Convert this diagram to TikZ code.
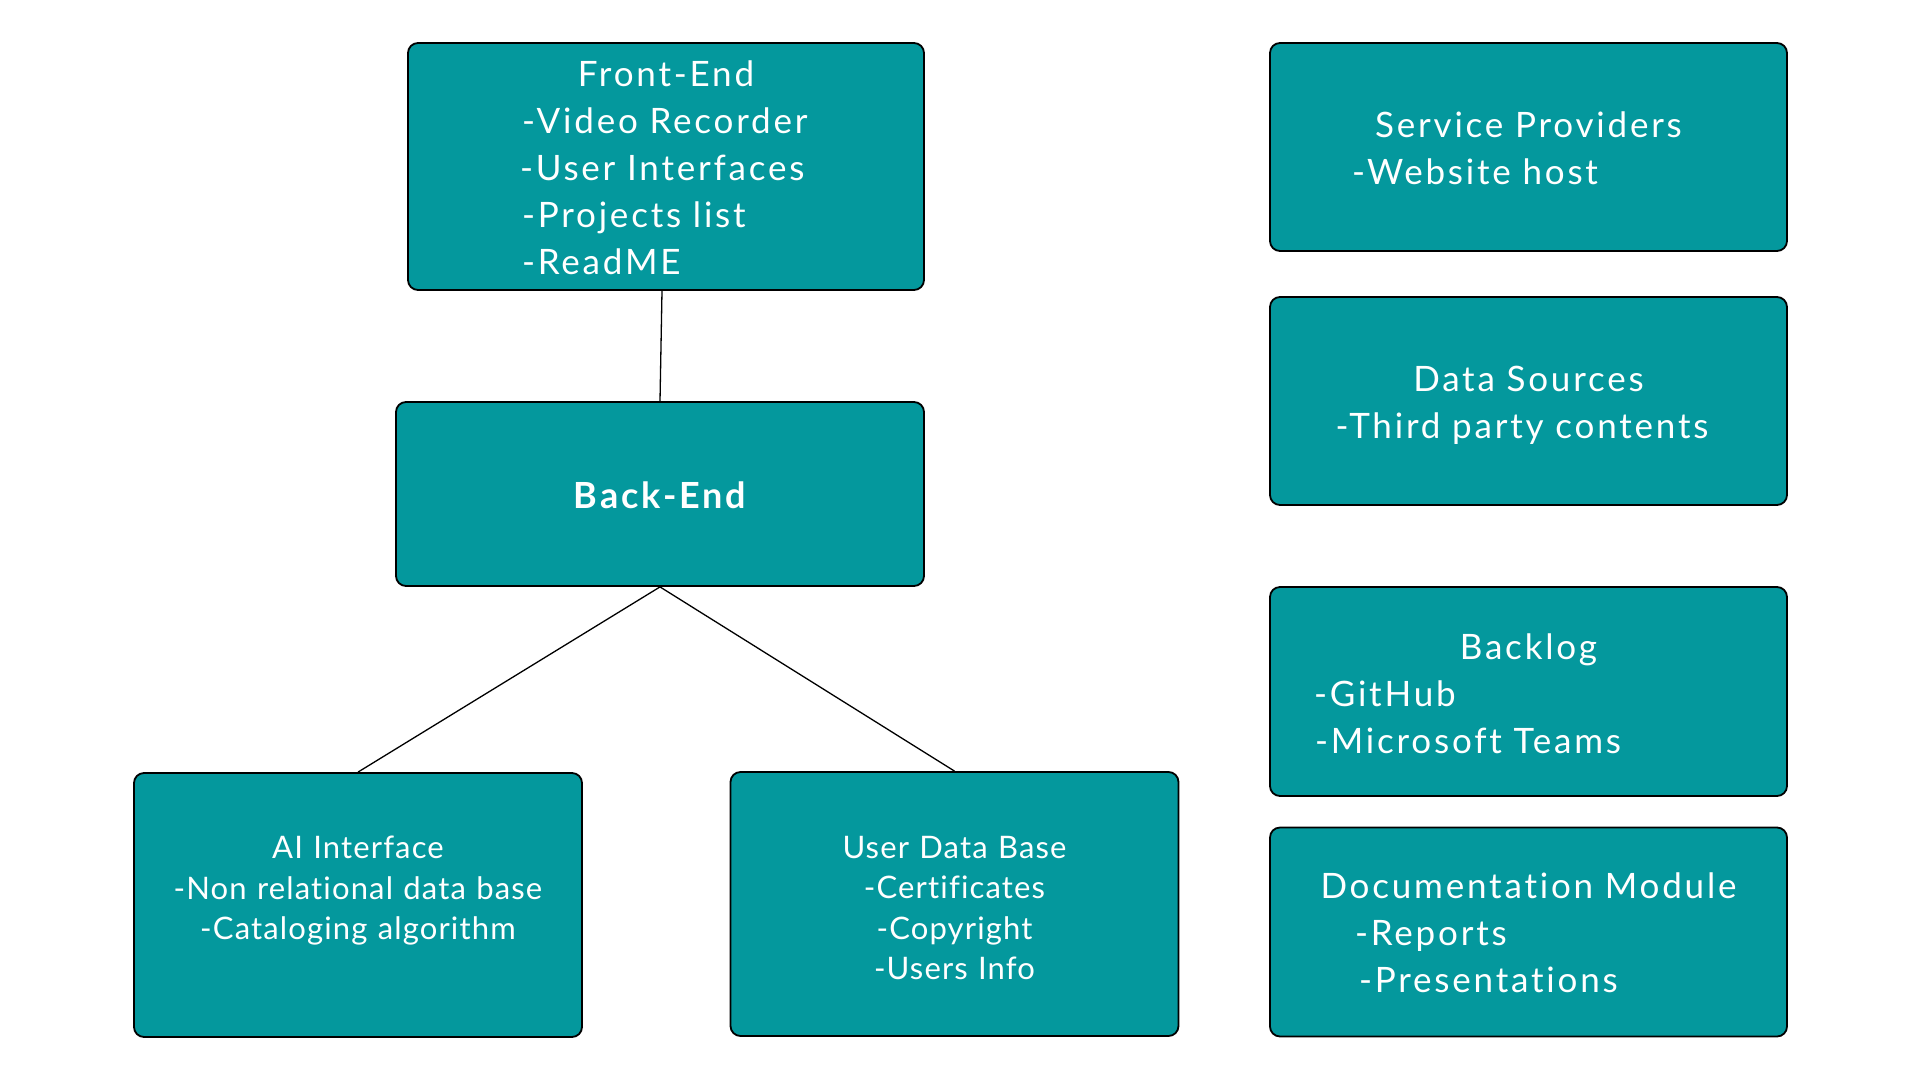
\documentclass[tikz,border=0pt]{standalone}
\usepackage{fontspec}
\setmainfont{Lato}[LetterSpace=8, Ligatures=NoCommon]
\newfontfamily\smallfont{Lato}[LetterSpace=3.7, Ligatures=NoCommon]
\definecolor{boxteal}{HTML}{04989D}
% a title line centred across the box, optionally pushed right
\newcommand{\boxtitle}[2][0]{\makebox[\linewidth]{\hspace*{#1pt}#2}}
% invisible rules that move a text block up or down in its box
\newcommand{\lift}[1]{\rule[-#1]{0pt}{#1}}
\newcommand{\sink}[1]{\rule{0pt}{#1}}
\begin{document}
\begin{tikzpicture}[x=1pt, y=-1pt,
    box/.style={draw=black, line width=1.8pt, fill=boxteal, rounded corners=10pt,
        inner sep=0pt, align=left, text=white, font=\fontsize{35}{47}\selectfont,
        execute at begin node=\strut, execute at end node=\strut},
    small/.style={font=\smallfont\fontsize{31}{40.6}\selectfont},
    link/.style={line width=1.3pt}]
    \useasboundingbox (0,0) rectangle (1920,1080);

    % Application stack
    \node[box, text width=516pt, minimum height=247pt] (fe) at (666,166.5)
        {\sink{43pt}\boxtitle{Front-End}\\
         \hspace*{114pt}-Video Recorder\\
         \hspace*{112pt}-User Interfaces\\
         \hspace*{114pt}-Projects list\\
         \hspace*{114pt}-ReadME};
    \node[box, text width=528pt, minimum height=184pt,
        font=\fontsize{36}{47}\selectfont\bfseries] (be) at (660,494)
        {\sink{43pt}\boxtitle{Back-End}};
    \node[box, small, text width=448pt, minimum height=264pt] (ai) at (358,905)
        {\boxtitle{AI Interface}\\
         \boxtitle{-Non relational data base}\\
         \boxtitle{-Cataloging algorithm}\lift{40pt}};
    \node[box, small, text width=448pt, minimum height=264pt] (udb) at (954.5,904)
        {\sink{42pt}\boxtitle{User Data Base}\\
         \boxtitle{-Certificates}\\
         \boxtitle{-Copyright}\\
         \boxtitle{-Users Info}};

    % Side column
    \node[box, text width=517pt, minimum height=208pt] (sp) at (1528.5,147)
        {\sink{43pt}\boxtitle{Service Providers}\\
         \hspace*{82pt}-Website host};
    \node[box, text width=517pt, minimum height=208pt] (ds) at (1528.5,401)
        {\sink{43pt}\boxtitle{Data Sources}\\
         \boxtitle[-13]{-Third party contents}};
    \node[box, text width=517pt, minimum height=209pt] (bl) at (1528.5,691.5)
        {\sink{44pt}\boxtitle{Backlog}\\
         \hspace*{44pt}-GitHub\\
         \hspace*{45pt}-Microsoft Teams};
    \node[box, text width=517pt, minimum height=209pt] (dm) at (1528.5,932)
        {\sink{41pt}\boxtitle{Documentation Module}\\
         \hspace*{85pt}-Reports\\
         \hspace*{89pt}-Presentations};

    % Links
    \draw[link] ([xshift=-4pt]fe.south) -- (be.north);
    \foreach \child in {ai, udb}
        \draw[link] (be.south) -- (\child.north);
\end{tikzpicture}
\end{document}
